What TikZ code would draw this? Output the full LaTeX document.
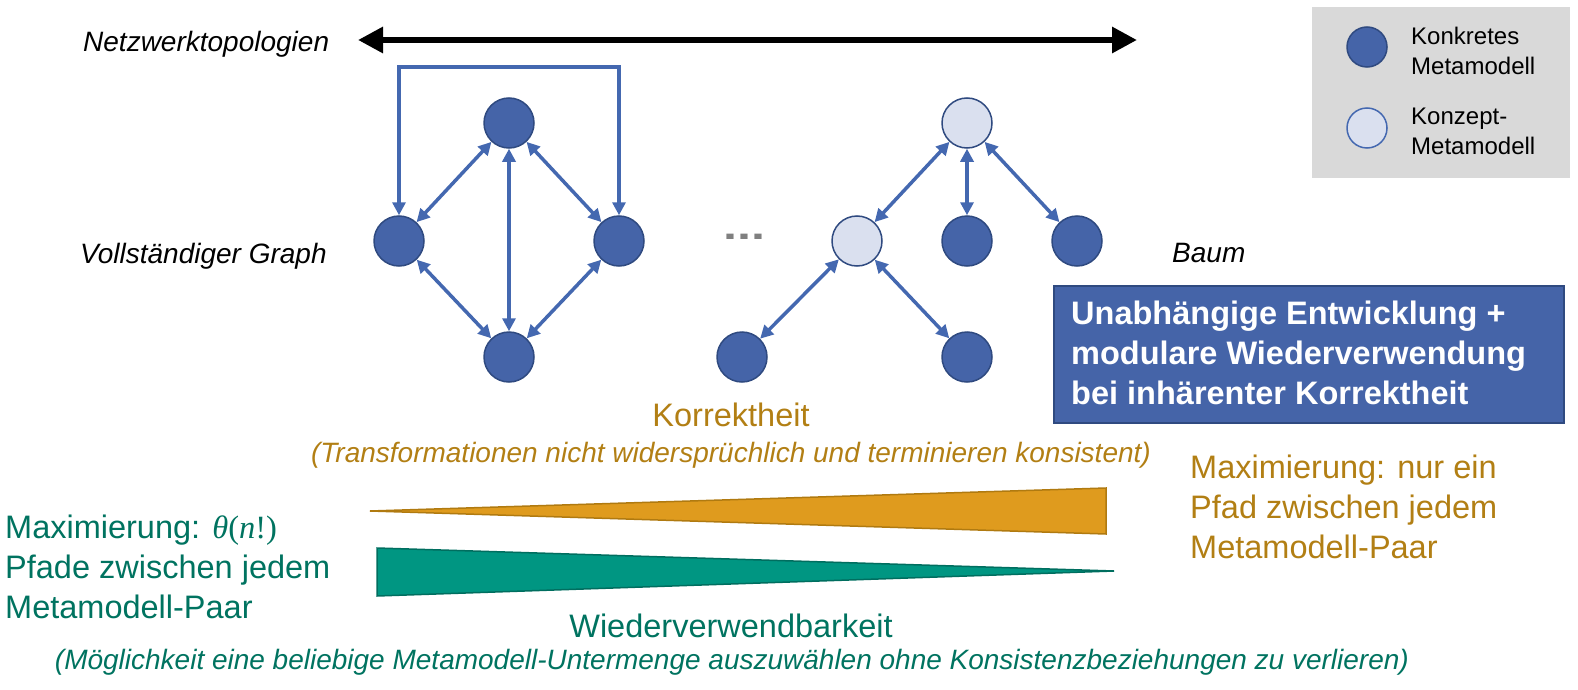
\documentclass[tikz,border=0pt]{standalone}
\usepackage{fontspec}
\setmainfont{Liberation Sans}
\newfontfamily\serifmath{Liberation Serif}
\usetikzlibrary{arrows.meta}
\definecolor{nodeblue}{RGB}{69,100,168}
\definecolor{nodeedge}{RGB}{47,74,128}
\definecolor{lightnode}{RGB}{218,224,239}
\definecolor{arrowblue}{RGB}{68,104,176}
\definecolor{legendgray}{RGB}{217,217,217}
\definecolor{orangetext}{RGB}{178,127,20}
\definecolor{orangefill}{RGB}{223,155,30}
\definecolor{orangeedge}{RGB}{176,122,16}
\definecolor{greentext}{RGB}{0,115,96}
\definecolor{greenfill}{RGB}{0,150,130}
\definecolor{greenedge}{RGB}{0,110,95}
\definecolor{dotgray}{RGB}{128,128,128}
\tikzset{
  conc/.style={circle, minimum size=50pt, inner sep=0pt, fill=nodeblue, draw=nodeedge, line width=1.5pt},
  concept/.style={circle, minimum size=50pt, inner sep=0pt, fill=lightnode, draw=nodeedge, line width=1.5pt},
  link/.style={draw=arrowblue, line width=3.5pt, {Triangle[length=13pt,width=13pt]}-{Triangle[length=13pt,width=13pt]}},
  lbl/.style={inner sep=0pt, font=\fontsize{28}{33}\selectfont\itshape},
  big/.style={inner sep=0pt, font=\fontsize{32.5}{40}\selectfont},
}
\begin{document}
\begin{tikzpicture}[x=1pt,y=-1pt]
\useasboundingbox (0,0) rectangle (1578,690);

% top arrow
\coordinate (ta) at (358,40);
\coordinate (tb) at (1137,40);
\draw[line width=6pt, {Triangle[length=25pt,width=25pt]}-{Triangle[length=25pt,width=25pt]}] (ta) -- (tb);
\node[lbl, anchor=west] (netz) at (83,44) {Netzwerktopologien};

% complete graph
\node[conc] (gt) at (509,123) {};
\node[conc] (gl) at (399,241) {};
\node[conc] (gr) at (619,241) {};
\node[conc] (gb) at (509,357) {};
\draw[link] (gl.north) -- ++(0,-148) -| (gr.north);
\draw[link] (gt) -- (gl);
\draw[link] (gt) -- (gr);
\draw[link] (gt) -- (gb);
\draw[link] (gl) -- (gb);
\draw[link] (gr) -- (gb);
\node[lbl, anchor=west] (vg) at (80,256) {Vollständiger Graph};

% dots
\node[inner sep=0pt, anchor=base, text=dotgray, font=\fontsize{36}{36}\selectfont\bfseries, xscale=1.4, transform shape] (dots) at (744,239) {...};

% tree
\node[concept] (tr) at (967,123) {};
\node[concept] (tm) at (857,241) {};
\node[conc] (tc) at (967,241) {};
\node[conc] (tx) at (1077,241) {};
\node[conc] (bl) at (742,357) {};
\node[conc] (br) at (967,357) {};
\draw[link] (tr) -- (tm);
\draw[link] (tr) -- (tc);
\draw[link] (tr) -- (tx);
\draw[link] (tm) -- (bl);
\draw[link] (tm) -- (br);
\node[lbl, anchor=west] (baum) at (1172,253) {Baum};

% legend
\node[fill=legendgray, minimum width=258pt, minimum height=171pt, inner sep=0pt, anchor=north west] (legend) at (1312,7) {};
\node[conc, minimum size=40pt] (lc) at (1367,47) {};
\node[concept, draw=arrowblue, minimum size=40pt] (lk) at (1367,128) {};
\node[inner sep=0pt, anchor=west, align=left, font=\fontsize{24}{30}\selectfont] (lct) at (1411,51) {Konkretes\\Metamodell};
\node[inner sep=0pt, anchor=west, align=left, font=\fontsize{24}{30}\selectfont] (lkt) at (1411,131) {Konzept-\\Metamodell};

% blue box
\node[fill=nodeblue, draw=nodeedge, line width=1.5pt, minimum width=510pt, minimum height=137pt, inner sep=0pt, anchor=north west] (box) at (1053,285) {};
\node[inner sep=0pt, anchor=west, align=left, text=white, font=\fontsize{32.5}{40}\selectfont\bfseries] (boxt) at (1071,353) {Unabhängige Entwicklung +\\modulare Wiederverwendung\\bei inhärenter Korrektheit};

% Korrektheit
\node[big, text=orangetext] (kor) at (731,415) {Korrektheit};
\node[lbl, text=orangetext] (korsub) at (731,455) {(Transformationen nicht widersprüchlich und terminieren konsistent)};

% wedges
\coordinate (ot) at (370,511);
\coordinate (ou) at (1106,488);
\coordinate (ol) at (1106,534);
\draw[fill=orangefill, draw=orangeedge, line width=1.5pt, line join=miter] (ot) -- (ou) -- (ol) -- cycle;
\coordinate (gu) at (377,548);
\coordinate (gd) at (377,596);
\coordinate (gtp) at (1114,571);
\draw[fill=greenfill, draw=greenedge, line width=1.5pt, line join=miter] (gu) -- (gtp) -- (gd) -- cycle;

% side texts
\node[big, text=greentext, anchor=west, align=left] (lefttxt) at (5,567) {Maximierung: {\serifmath\itshape θ}{\serifmath(}{\serifmath\itshape n}{\serifmath!)}\\Pfade zwischen jedem\\Metamodell-Paar};
\node[big, text=orangetext, anchor=west, align=left] (righttxt) at (1190,507) {Maximierung: nur ein\\Pfad zwischen jedem\\Metamodell-Paar};

% Wiederverwendbarkeit
\node[big, text=greentext] (wv) at (731,626) {Wiederverwendbarkeit};
\node[lbl, text=greentext] (wvsub) at (732,662) {(Möglichkeit eine beliebige Metamodell-Untermenge auszuwählen ohne Konsistenzbeziehungen zu verlieren)};
\end{tikzpicture}
\end{document}
